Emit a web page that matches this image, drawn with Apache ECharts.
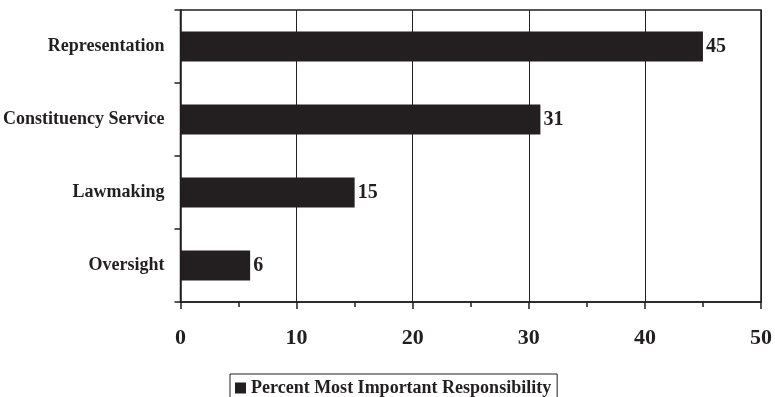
<!DOCTYPE html>
<html>
<head>
<meta charset="utf-8">
<style>
  html, body { margin: 0; padding: 0; background: #fff; }
  #chart { width: 775px; height: 397px; }
</style>
<script src="https://cdn.jsdelivr.net/npm/echarts@6/dist/echarts.min.js"></script>
</head>
<body>
<div id="chart"></div>
<script>
// Responsibilities listed top to bottom
const categories = ['Representation', 'Constituency Service', 'Lawmaking', 'Oversight'];
const percentMostImportant = [45, 31, 15, 6];
const seriesName = 'Percent Most Important Responsibility';
const xTicks = [0, 10, 20, 30, 40, 50];

const ink = '#231f20';
const serif = '"Liberation Serif", "Times New Roman", serif';

const chart = echarts.init(document.getElementById('chart'));
chart.setOption({
  animation: false,
  grid: {
    left: 179, right: 13, top: 10, bottom: 95,
    show: true, borderColor: ink, borderWidth: 1.5
  },
  legend: {
    data: [seriesName],
    left: 230, top: 374,
    padding: [5, 6, 10, 5],
    borderColor: ink, borderWidth: 1,
    itemWidth: 11, itemHeight: 11, itemGap: 6,
    icon: 'rect',
    textStyle: { fontFamily: serif, fontWeight: 'bold', fontSize: 18, color: ink }
  },
  xAxis: {
    type: 'value',
    min: xTicks[0], max: xTicks[xTicks.length - 1], interval: 10,
    axisLine: { show: true, lineStyle: { color: ink, width: 1.5 } },
    axisTick: { show: true, length: 7, lineStyle: { color: ink, width: 1.5 } },
    minorTick: { show: true, splitNumber: 2, length: 5, lineStyle: { color: ink, width: 1.5 } },
    splitLine: { show: true, lineStyle: { color: ink, width: 1 } },
    axisLabel: { margin: 25, fontFamily: serif, fontWeight: 'bold', fontSize: 22, color: ink }
  },
  yAxis: {
    type: 'category',
    data: categories,
    inverse: true,
    axisLine: { show: true, lineStyle: { color: ink, width: 1.5 } },
    axisTick: { show: true, length: 6, lineStyle: { color: ink, width: 1.5 } },
    axisLabel: { margin: 16, fontFamily: serif, fontWeight: 'bold', fontSize: 18, color: ink }
  },
  series: [{
    name: seriesName,
    type: 'bar',
    data: percentMostImportant,
    barWidth: 30,
    itemStyle: { color: ink },
    label: {
      show: true, position: 'right', distance: 3,
      fontFamily: serif, fontWeight: 'bold', fontSize: 20, color: ink
    }
  }]
});
</script>
</body>
</html>
